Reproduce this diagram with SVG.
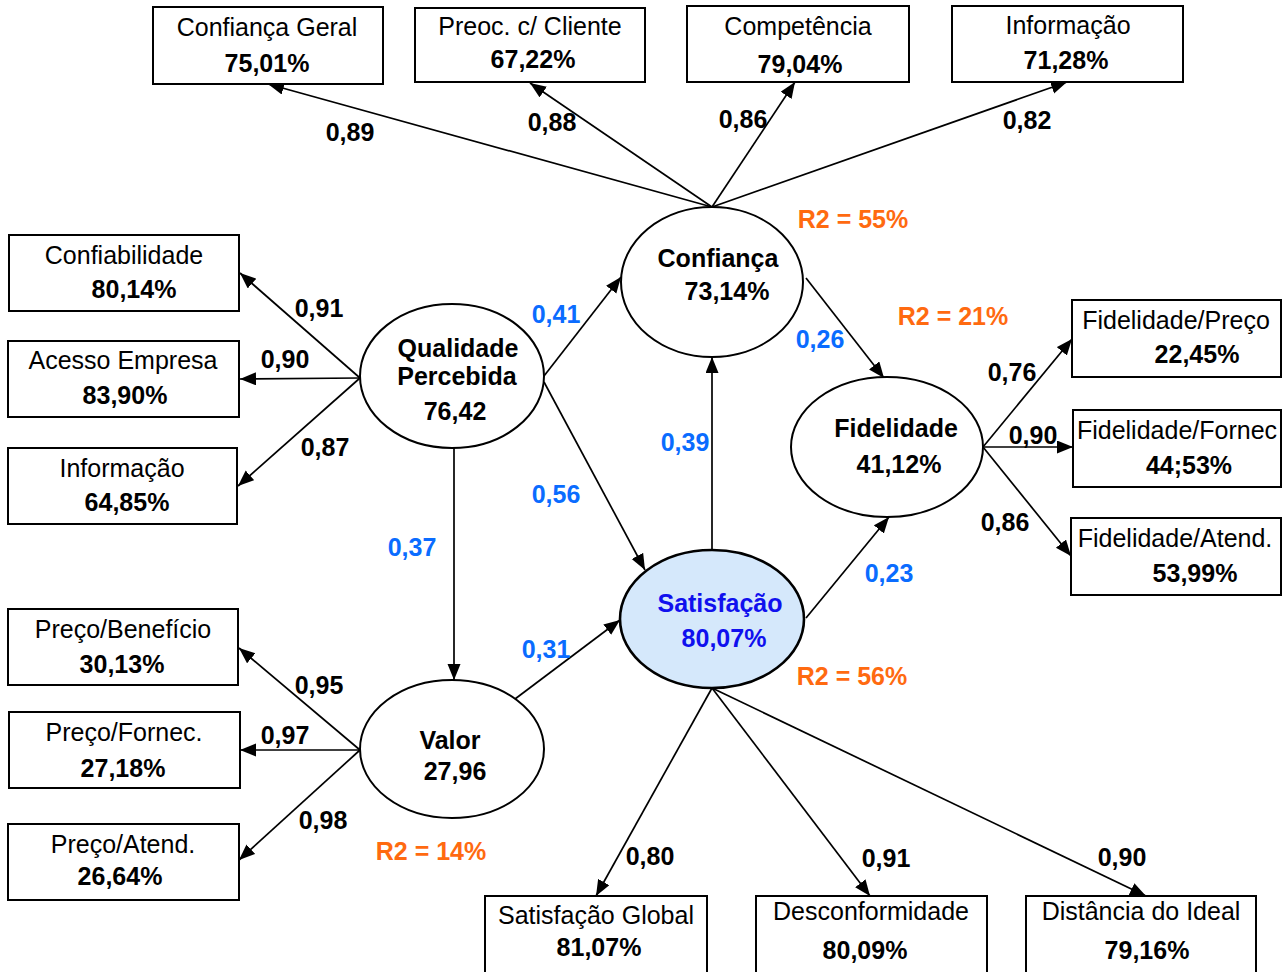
<svg xmlns="http://www.w3.org/2000/svg" width="1282" height="972" viewBox="0 0 1282 972">
<style>
text{font-family:"Liberation Sans",Arial,sans-serif;font-size:25px;text-anchor:middle;fill:#000}
.b{font-weight:bold}
.bl{font-weight:bold;fill:#0a6cff}
.or{font-weight:bold;fill:#ff6a10}
.sat{font-weight:bold;fill:#1010ee}
.box{fill:#fff;stroke:#000;stroke-width:2}
.ell{fill:#fff;stroke:#000;stroke-width:2}
.ellsat{fill:#d5e8fb;stroke:#000;stroke-width:2.6}
.c line{stroke:#000;stroke-width:1.7;marker-end:url(#a)}
</style>
<defs>
<marker id="a" markerUnits="userSpaceOnUse" markerWidth="17" markerHeight="14" refX="16" refY="6.5" orient="auto">
<path d="M0,0 L16,6.5 L0,13 z" fill="#000"/>
</marker>
</defs>
<rect width="1282" height="972" fill="#fff"/>

<g id="connectors" class="c">
<line x1="712" y1="207" x2="268" y2="84"/>
<line x1="712" y1="207" x2="530" y2="83"/>
<line x1="712" y1="207" x2="795" y2="82"/>
<line x1="712" y1="207" x2="1067" y2="82"/>
<line x1="360" y1="378" x2="240" y2="273"/>
<line x1="360" y1="378" x2="240" y2="379"/>
<line x1="360" y1="378" x2="238" y2="486"/>
<line x1="544" y1="376" x2="621" y2="277"/>
<line x1="544" y1="382" x2="645" y2="570"/>
<line x1="454" y1="448" x2="454" y2="680"/>
<line x1="712" y1="550" x2="712" y2="357"/>
<line x1="806" y1="278" x2="884" y2="378"/>
<line x1="806" y1="618" x2="889" y2="517"/>
<line x1="515" y1="699" x2="620" y2="620"/>
<line x1="983" y1="447" x2="1072" y2="339"/>
<line x1="983" y1="447" x2="1073" y2="447"/>
<line x1="983" y1="447" x2="1071" y2="556"/>
<line x1="360" y1="750" x2="239" y2="648"/>
<line x1="360" y1="750" x2="240" y2="750"/>
<line x1="360" y1="750" x2="239" y2="860"/>
<line x1="712" y1="688" x2="596" y2="896"/>
<line x1="712" y1="688" x2="870" y2="896"/>
<line x1="712" y1="688" x2="1146" y2="896"/>
</g>

<g id="labels">
<text class="b" x="350" y="141">0,89</text>
<text class="b" x="552" y="131">0,88</text>
<text class="b" x="743" y="128">0,86</text>
<text class="b" x="1027" y="129">0,82</text>
<text class="b" x="319" y="317">0,91</text>
<text class="b" x="285" y="368">0,90</text>
<text class="b" x="325" y="456">0,87</text>
<text class="bl" x="556" y="323">0,41</text>
<text class="bl" x="556" y="503">0,56</text>
<text class="bl" x="412" y="556">0,37</text>
<text class="bl" x="685" y="451">0,39</text>
<text class="bl" x="820" y="348">0,26</text>
<text class="bl" x="889" y="582">0,23</text>
<text class="bl" x="546" y="658">0,31</text>
<text class="b" x="1012" y="381">0,76</text>
<text class="b" x="1033" y="444">0,90</text>
<text class="b" x="1005" y="531">0,86</text>
<text class="b" x="319" y="694">0,95</text>
<text class="b" x="285" y="744">0,97</text>
<text class="b" x="323" y="829">0,98</text>
<text class="b" x="650" y="865">0,80</text>
<text class="b" x="886" y="867">0,91</text>
<text class="b" x="1122" y="866">0,90</text>
<text class="or" x="853" y="228">R2 = 55%</text>
<text class="or" x="953" y="325">R2 = 21%</text>
<text class="or" x="852" y="685">R2 = 56%</text>
<text class="or" x="431" y="860">R2 = 14%</text>
</g>

<g id="confianca-geral"><rect class="box" x="153" y="7" width="230" height="77"/><text x="267" y="36">Confiança Geral</text><text class="b" x="267" y="72">75,01%</text></g>
<g id="preoc-cliente"><rect class="box" x="415" y="8" width="230" height="74"/><text x="530" y="35">Preoc. c/ Cliente</text><text class="b" x="533" y="68">67,22%</text></g>
<g id="competencia"><rect class="box" x="687" y="6" width="222" height="76"/><text x="798" y="35">Competência</text><text class="b" x="800" y="73">79,04%</text></g>
<g id="informacao-top"><rect class="box" x="952" y="6" width="231" height="76"/><text x="1068" y="34">Informação</text><text class="b" x="1066" y="69">71,28%</text></g>

<g id="confiabilidade"><rect class="box" x="9" y="235" width="230" height="76"/><text x="124" y="264">Confiabilidade</text><text class="b" x="134" y="298">80,14%</text></g>
<g id="acesso-empresa"><rect class="box" x="8" y="341" width="231" height="76"/><text x="123" y="369">Acesso Empresa</text><text class="b" x="125" y="404">83,90%</text></g>
<g id="informacao-left"><rect class="box" x="8" y="448" width="229" height="76"/><text x="122" y="477">Informação</text><text class="b" x="127" y="511">64,85%</text></g>

<g id="preco-beneficio"><rect class="box" x="8" y="609" width="230" height="76"/><text x="123" y="638">Preço/Benefício</text><text class="b" x="122" y="673">30,13%</text></g>
<g id="preco-fornec"><rect class="box" x="9" y="712" width="231" height="76"/><text x="124" y="741">Preço/Fornec.</text><text class="b" x="123" y="777">27,18%</text></g>
<g id="preco-atend"><rect class="box" x="8" y="824" width="231" height="76"/><text x="123" y="853">Preço/Atend.</text><text class="b" x="120" y="885">26,64%</text></g>

<g id="satisfacao-global"><rect class="box" x="485" y="896" width="222" height="78"/><text x="596" y="924">Satisfação Global</text><text class="b" x="599" y="956">81,07%</text></g>
<g id="desconformidade"><rect class="box" x="756" y="896" width="231" height="78"/><text x="871" y="920">Desconformidade</text><text class="b" x="865" y="959">80,09%</text></g>
<g id="distancia-ideal"><rect class="box" x="1026" y="896" width="230" height="78"/><text x="1141" y="920">Distância do Ideal</text><text class="b" x="1147" y="959">79,16%</text></g>

<g id="fidelidade-preco"><rect class="box" x="1072" y="300" width="209" height="77"/><text x="1176" y="329">Fidelidade/Preço</text><text class="b" x="1197" y="363">22,45%</text></g>
<g id="fidelidade-fornec"><rect class="box" x="1073" y="410" width="208" height="77"/><text x="1177" y="439">Fidelidade/Fornec</text><text class="b" x="1189" y="474">44;53%</text></g>
<g id="fidelidade-atend"><rect class="box" x="1071" y="518" width="210" height="77"/><text x="1175" y="547">Fidelidade/Atend.</text><text class="b" x="1195" y="582">53,99%</text></g>

<g id="confianca"><ellipse class="ell" cx="712" cy="282" rx="91" ry="75"/><text class="b" x="718" y="267">Confiança</text><text class="b" x="727" y="300">73,14%</text></g>
<g id="qualidade-percebida"><ellipse class="ell" cx="452" cy="376" rx="92" ry="72"/><text class="b" x="458" y="357">Qualidade</text><text class="b" x="457" y="385">Percebida</text><text class="b" x="455" y="420">76,42</text></g>
<g id="fidelidade"><ellipse class="ell" cx="887" cy="447" rx="96" ry="70"/><text class="b" x="896" y="437">Fidelidade</text><text class="b" x="899" y="473">41,12%</text></g>
<g id="satisfacao"><ellipse class="ellsat" cx="712" cy="619" rx="92" ry="69"/><text class="sat" x="720" y="612">Satisfação</text><text class="sat" x="724" y="647">80,07%</text></g>
<g id="valor"><ellipse class="ell" cx="452" cy="749" rx="92" ry="69"/><text class="b" x="450" y="749">Valor</text><text class="b" x="455" y="780">27,96</text></g>
</svg>
